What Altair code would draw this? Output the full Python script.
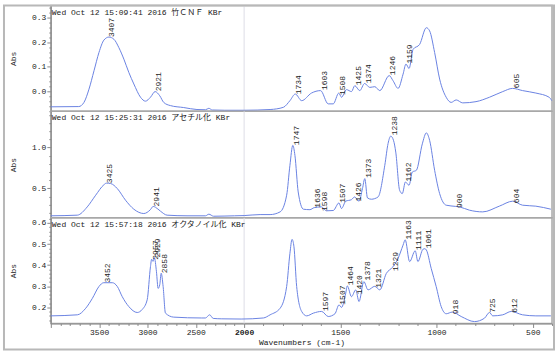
import altair as alt
import pandas as pd

# ---------------- data ----------------
# Panel 1: 竹CNF
p1_wn = [4000, 3711, 3657, 3605, 3553, 3502, 3450, 3399, 3347, 3296, 3244, 3193, 3141, 3072, 3021,
         2969, 2921, 2873, 2832, 2763, 2625, 2488, 2400, 2365, 2330, 2200, 2000, 1865, 1796, 1762,
         1734, 1701, 1650, 1603, 1563, 1537, 1508, 1494, 1468, 1442, 1425, 1399, 1374, 1347, 1321,
         1295, 1246, 1226, 1200, 1174, 1159, 1143, 1122, 1088, 1053, 1036, 1010, 984, 950, 924,
         898, 864, 795, 725, 656, 605, 553, 484, 415, 401]
p1_abs = [-0.063, -0.062, -0.045, 0.009, 0.084, 0.158, 0.209, 0.221, 0.212, 0.178, 0.131, 0.077, 0.030, -0.024, -0.040,
          -0.024, -0.001, -0.018, -0.045, -0.058, -0.066, -0.074, -0.075, -0.069, -0.076, -0.077, -0.077, -0.074, -0.065, -0.038,
          -0.011, -0.038, -0.007, 0.003, -0.051, -0.051, -0.007, -0.024, 0.007, -0.001, 0.023, 0.003, 0.032, 0.016, 0.019,
          0.003, 0.064, 0.043, 0.012, 0.070, 0.111, 0.093, 0.171, 0.191, 0.259, 0.246, 0.158, 0.050, -0.024, -0.045,
          -0.035, -0.047, -0.042, -0.024, -0.001, 0.012, 0.003, -0.007, -0.024, -0.038]
p1_peak_wn = [3407, 2921, 1734, 1603, 1508, 1425, 1374, 1246, 1159, 605]
p1_peak_abs = [0.221, 0.000, -0.012, 0.005, -0.015, 0.025, 0.033, 0.066, 0.113, 0.013]
p1_peak_txt = ["3407", "2921", "1734", "1603", "1508", "1425", "1374", "1246", "1159", "605"]

# Panel 2: アセチル化
p2_wn = [4000, 3726, 3623, 3536, 3450, 3425, 3381, 3312, 3227, 3141, 3038, 2970, 2941, 2918, 2866,
         2797, 2591, 2400, 2365, 2316, 2100, 2000, 1917, 1865, 1813, 1779, 1762, 1747, 1736, 1719,
         1692, 1658, 1636, 1598, 1572, 1537, 1507, 1494, 1472, 1442, 1426, 1403, 1385, 1373, 1359,
         1339, 1304, 1269, 1252, 1238, 1224, 1212, 1192, 1178, 1162, 1143, 1126, 1105, 1074, 1053,
         1036, 1010, 984, 950, 900, 881, 829, 760, 674, 604, 553, 484, 406]
p2_abs = [0.165, 0.173, 0.274, 0.417, 0.546, 0.565, 0.560, 0.498, 0.356, 0.246, 0.193, 0.240, 0.280, 0.270, 0.222,
          0.173, 0.165, 0.165, 0.185, 0.160, 0.165, 0.168, 0.180, 0.180, 0.213, 0.417, 0.783, 1.027, 0.905, 0.457,
          0.246, 0.240, 0.265, 0.274, 0.226, 0.230, 0.323, 0.254, 0.344, 0.363, 0.396, 0.344, 0.498, 0.620, 0.384,
          0.368, 0.396, 0.783, 1.050, 1.140, 1.090, 0.945, 0.478, 0.437, 0.579, 0.539, 0.701, 0.722, 1.046, 1.180,
          1.088, 0.722, 0.437, 0.295, 0.280, 0.274, 0.234, 0.213, 0.283, 0.344, 0.295, 0.283, 0.246]
p2_peak_wn = [3425, 2941, 1747, 1636, 1598, 1507, 1426, 1373, 1238, 1162, 900, 604]
p2_peak_abs = [0.565, 0.280, 1.030, 0.265, 0.225, 0.325, 0.340, 0.630, 1.150, 0.585, 0.260, 0.320]
p2_peak_txt = ["3425", "2941", "1747", "1636", "1598", "1507", "1426", "1373", "1238", "1162", "900", "604"]

# Panel 3: オクタノイル化
p3_wn = [4000, 3725, 3639, 3570, 3502, 3452, 3364, 3312, 3261, 3193, 3106, 3055, 3003, 2969, 2957,
         2943, 2929, 2907, 2890, 2873, 2858, 2838, 2814, 2728, 2443, 2400, 2357, 2320, 2237, 2031,
         1900, 1865, 1813, 1779, 1762, 1751, 1741, 1727, 1701, 1675, 1640, 1597, 1563, 1528, 1507,
         1494, 1472, 1464, 1442, 1420, 1403, 1378, 1356, 1321, 1295, 1261, 1229, 1200, 1174, 1163,
         1140, 1111, 1097, 1071, 1061, 1053, 1028, 1002, 976, 950, 918, 872, 803, 751, 725,
         708, 656, 612, 553, 484, 406]
p3_abs = [0.160, 0.165, 0.196, 0.243, 0.299, 0.317, 0.317, 0.299, 0.251, 0.204, 0.176, 0.190, 0.236, 0.393, 0.428,
          0.418, 0.436, 0.369, 0.290, 0.307, 0.362, 0.299, 0.173, 0.154, 0.150, 0.150, 0.165, 0.148, 0.146, 0.145,
          0.150, 0.165, 0.196, 0.299, 0.456, 0.522, 0.487, 0.299, 0.181, 0.160, 0.173, 0.181, 0.157, 0.170, 0.212,
          0.200, 0.267, 0.302, 0.251, 0.283, 0.228, 0.322, 0.283, 0.300, 0.283, 0.361, 0.390, 0.432, 0.495, 0.520,
          0.417, 0.468, 0.417, 0.475, 0.478, 0.472, 0.385, 0.299, 0.204, 0.170, 0.178, 0.157, 0.133, 0.149, 0.176,
          0.160, 0.165, 0.181, 0.165, 0.160, 0.160]
p3_peak_wn = [3452, 2957, 2929, 2858, 1597, 1507, 1464, 1420, 1378, 1321, 1229, 1163, 1111, 1061, 918, 725, 612]
p3_peak_abs = [0.318, 0.426, 0.436, 0.362, 0.183, 0.213, 0.305, 0.262, 0.328, 0.293, 0.372, 0.522, 0.472, 0.480, 0.168, 0.175, 0.175]
p3_peak_txt = ["3452", "2957", "2929", "2858", "1597", "1507", "1464", "1420", "1378", "1321", "1229", "1163",
               "1111", "1061", "918", "725", "612"]

titles = ["Wed Oct 12 15:09:41 2016  竹ＣＮＦ  KBr",
          "Wed Oct 12 15:25:31 2016  アセチル化  KBr",
          "Wed Oct 12 15:57:18 2016 オクタノイル化  KBr"]

x_break = [2000]
x_tick_values = list(range(400, 4001, 100))

# ---------------- styling ----------------
FONT = "Liberation Mono, Noto Sans CJK JP, monospace"
LINE_COLOR = "#6a83e2"
AXIS_COLOR = "#8a8a8a"
TEXT_COLOR = "#222222"
W = 503


def xscale():
    return alt.Scale(domain=[4000, 2000, 400], range=[0, 194, W], nice=False, zero=False)


def xaxis(show):
    if not show:
        return None
    return alt.Axis(
        values=x_tick_values,
        labelExpr="(datum.value % 500 === 0 && datum.value < 4000) ? format(datum.value, 'd') : ''",
        labelOverlap=False, labelFlush=False,
        labelFont=FONT, labelFontSize=8, labelColor=TEXT_COLOR, labelPadding=1,
        labelFontWeight={"condition": {"test": "datum.value === 2000", "value": "bold"}, "value": "normal"},
        tickSize={"condition": {"test": "datum.value % 500 === 0", "value": 4}, "value": 2},
        tickColor=AXIS_COLOR, domainColor=AXIS_COLOR, grid=False,
        title="Wavenumbers (cm-1)", titleFont=FONT, titleFontSize=8, titleFontWeight="normal",
        titleColor=TEXT_COLOR, titlePadding=2,
    )


def panel(wn, ab, pw, pa, pt, title, ydom, h, yvals, major_mult, show_x):
    df = pd.DataFrame({"wn": wn, "abs": ab})
    lab = pd.DataFrame({"wn": pw, "abs": pa, "t": pt})
    brk = pd.DataFrame({"wn": x_break})
    ttl = pd.DataFrame({"t": [title]})

    yaxis = alt.Axis(
        values=yvals,
        labelExpr=f"abs(datum.value*{major_mult} - round(datum.value*{major_mult})) < 0.001 ? format(datum.value, '.1f') : ''",
        labelOverlap=False, labelFlush=False,
        tickSize={"condition": {"test": f"abs(datum.value*{major_mult} - round(datum.value*{major_mult})) < 0.001",
                                "value": 4}, "value": 2},
        labelFont=FONT, labelFontSize=8, labelColor=TEXT_COLOR, labelPadding=1,
        tickColor=AXIS_COLOR, domainColor=AXIS_COLOR, grid=False,
        title="Abs", titleFont=FONT, titleFontSize=8, titleFontWeight="normal",
        titleColor=TEXT_COLOR, titlePadding=14,
    )
    X = alt.X("wn:Q", scale=xscale(), axis=xaxis(show_x))
    Y = alt.Y("abs:Q", scale=alt.Scale(domain=ydom, nice=False, zero=False), axis=yaxis)

    rule = alt.Chart(brk).mark_rule(color="#dedee6", strokeWidth=1).encode(x=X)
    line = alt.Chart(df).mark_line(color=LINE_COLOR, strokeWidth=1, interpolate="monotone").encode(x=X, y=Y)
    text = alt.Chart(lab).mark_text(angle=270, align="left", baseline="top", font=FONT, fontSize=8,
                                    color=TEXT_COLOR).encode(x=X, y=Y, text="t:N")
    head = alt.Chart(ttl).mark_text(align="left", baseline="top", font=FONT, fontSize=8,
                                    color=TEXT_COLOR).encode(x=alt.value(1), y=alt.value(3), text="t:N")
    layers = [rule, line, text, head]
    if show_x:
        # light window frame around the whole figure
        frame = alt.Chart(pd.DataFrame({"f": [0]})).mark_rect(fillOpacity=0, stroke="#b8b8b8", strokeWidth=2).encode(
            x=alt.value(-47), x2=alt.value(505), y=alt.value(-213), y2=alt.value(132))
        layers.append(frame)
    return alt.layer(*layers).properties(width=W, height=h)


def steps(lo, hi, st):
    n = int(round((hi - lo) / st))
    return [round(lo + i * st, 3) for i in range(n + 1)]


c1 = panel(p1_wn, p1_abs, p1_peak_wn, p1_peak_abs, p1_peak_txt, titles[0], [-0.081, 0.349], 106,
           steps(-0.08, 0.34, 0.02), 10, False)
c2 = panel(p2_wn, p2_abs, p2_peak_wn, p2_peak_abs, p2_peak_txt, titles[1], [0.14, 1.445], 107,
           steps(0.2, 1.4, 0.1), 2, False)
c3 = panel(p3_wn, p3_abs, p3_peak_wn, p3_peak_abs, p3_peak_txt, titles[2], [0.124, 0.624], 106,
           steps(0.14, 0.62, 0.02), 10, True)

chart = alt.vconcat(c1, c2, c3, spacing=0, bounds="flush").properties(
    padding={"left": 2, "top": 2, "right": 2, "bottom": 2},
    background="white",
).configure_view(stroke="#a8a8a8", strokeWidth=1.5)

chart.save("out.html", embed_options={"renderer": "svg", "actions": False})
